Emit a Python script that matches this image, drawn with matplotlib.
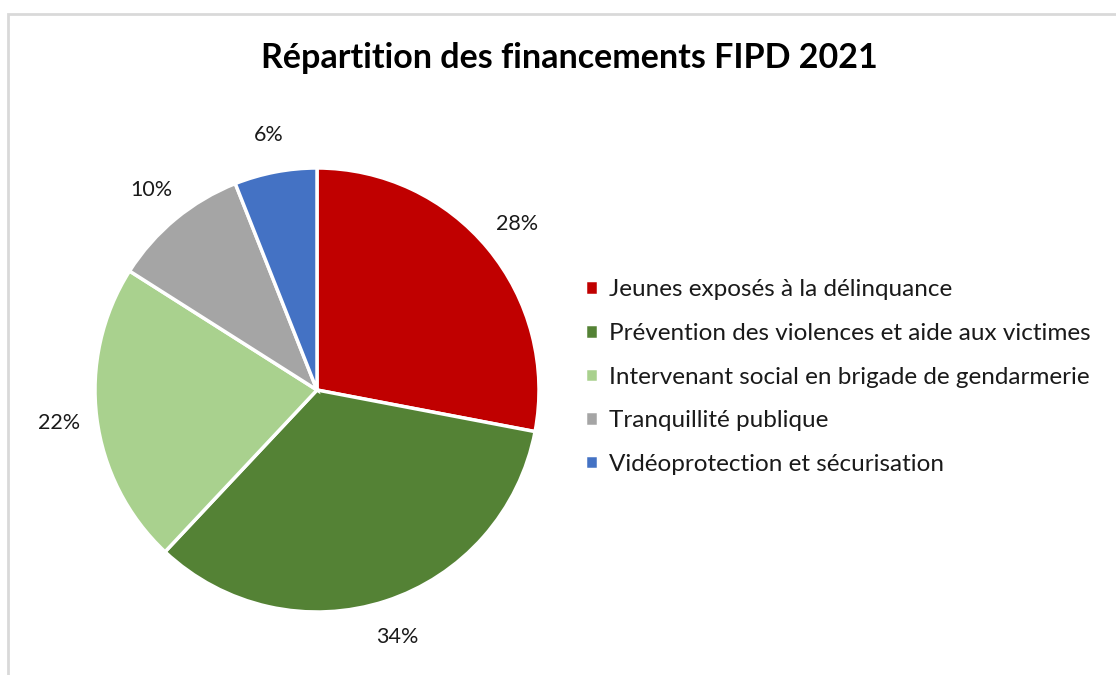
import matplotlib
matplotlib.use('Agg')
import matplotlib.pyplot as plt
from matplotlib.patches import Rectangle

plt.rcParams['font.family'] = ['Lato', 'DejaVu Sans']

# Data
categories = [
    "Jeunes exposés à la délinquance",
    "Prévention des violences et aide aux victimes",
    "Intervenant social en brigade de gendarmerie",
    "Tranquillité publique",
    "Vidéoprotection et sécurisation",
]
shares = [28, 34, 22, 10, 6]
colors = ["#C00000", "#548235", "#A9D18E", "#A5A5A5", "#4472C4"]
title = "Répartition des financements FIPD 2021"

W, H = 1116, 675
fig = plt.figure(figsize=(W / 100, H / 100), dpi=100)
fig.patch.set_facecolor('white')

# light grey frame (cropped on the right and bottom)
fig.patches.append(Rectangle((8 / W, -0.1), 1.2, (H - 14) / H + 0.1,
                             transform=fig.transFigure, fill=False,
                             edgecolor='#D9D9D9', linewidth=2))

cx, cy, r = 317, 390, 222
ax = fig.add_axes([(cx - r) / W, (H - cy - r) / H, 2 * r / W, 2 * r / H])
wedges, _, autotexts = ax.pie(
    shares, colors=colors, startangle=90, counterclock=False,
    autopct=lambda p: f"{p:.0f}%", pctdistance=1.17,
    wedgeprops=dict(edgecolor='white', linewidth=2.5),
    textprops=dict(fontsize=15.5, color='#1a1a1a'))
ax.set_xlim(-1, 1)
ax.set_ylim(-1, 1)
ax.set_aspect('equal')
ax.axis('off')

fig.text(569 / W, 1 - 58 / H, title, ha='center', va='center',
         fontsize=24.5, fontweight='bold', color='black')

fig.legend(wedges, categories, loc='center left',
           bbox_to_anchor=(563 / W, 1 - 377 / H), frameon=False,
           fontsize=17.5, handlelength=0.55, handleheight=0.55,
           handletextpad=0.45, labelspacing=0.93, labelcolor='#1a1a1a')

fig.savefig('out.png', dpi=100, facecolor='white')
